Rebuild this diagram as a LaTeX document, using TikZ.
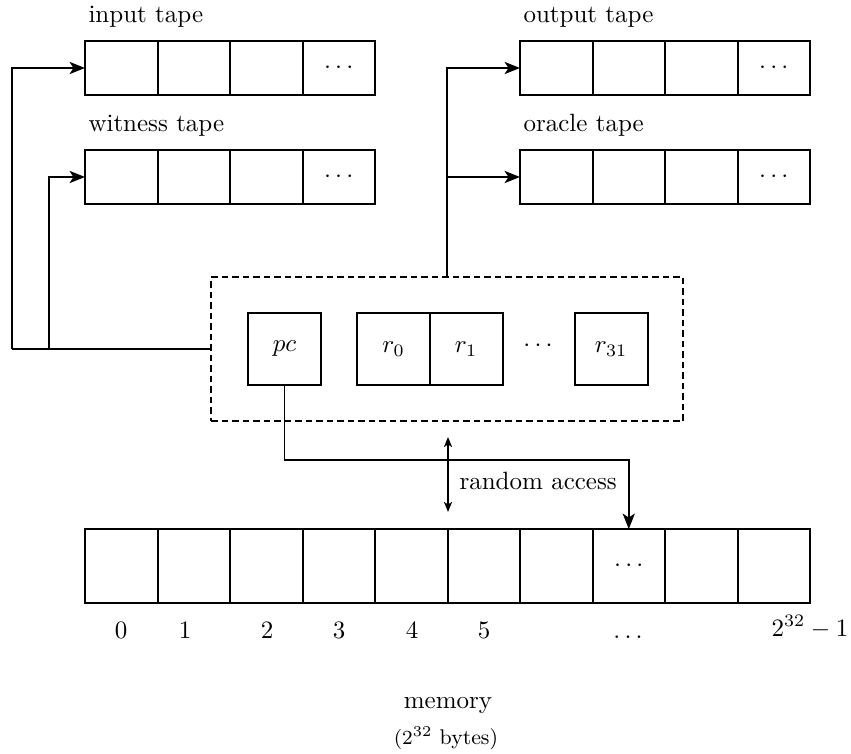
\documentclass[tikz,border=0pt]{standalone}
\usetikzlibrary{arrows.meta}
\begin{document}
\begin{tikzpicture}[x=0.4pt,y=-0.4pt,
 cell/.style={draw,line width=0.8pt,inner sep=0pt,outer sep=0pt,minimum width=29pt,minimum height=21.6pt},
 mcell/.style={cell,minimum height=29.6pt},
 reg/.style={cell,minimum width=29.2pt,minimum height=28.8pt},
 lbl/.style={anchor=base west,inner sep=0pt},
 num/.style={anchor=base,inner sep=0pt},
 conn/.style={line width=0.7pt},
 arr/.style={conn,-{Stealth[length=6.2pt,width=4.9pt,inset=1.6pt]}},
 darr/.style={conn,{Stealth[length=4pt,width=3.2pt,inset=1pt]}-{Stealth[length=4pt,width=3.2pt,inset=1pt]}}]
\useasboundingbox (0,0) rectangle (851,753);
% tapes
\foreach \i/\x in {1/121.25,2/193.75,3/266.25}{
  \node[cell] (in\i) at (\x,68) {};
  \node[cell] (wi\i) at (\x,177) {};
}
\node[cell] (in4) at (338.75,68) {$\cdots$};
\node[cell] (wi4) at (338.75,177) {$\cdots$};
\foreach \i/\x in {1/556.25,2/628.75,3/701.25}{
  \node[cell] (out\i) at (\x,68) {};
  \node[cell] (or\i) at (\x,177) {};
}
\node[cell] (out4) at (773.75,68) {$\cdots$};
\node[cell] (or4) at (773.75,177) {$\cdots$};
\node[lbl] (inlbl) at (88,22) {input tape};
\node[lbl] (wilbl) at (88,131) {witness tape};
\node[lbl] (outlbl) at (523,22) {output tape};
\node[lbl] (orlbl) at (523,131) {oracle tape};
% cpu
\node[draw,line width=0.7pt,dash pattern=on 2.6pt off 1.6pt,inner sep=0pt,minimum width=188.8pt,minimum height=57.6pt] (cpu) at (447,349) {};
\node[reg] (pc) at (284.5,349) {$pc$};
\node[reg] (r0) at (393.5,349) {$r_0$};
\node[reg] (r1) at (466,349) {$r_1$};
\node[inner sep=0pt] (rdots) at (538,346) {$\cdots$};
\node[reg] (r31) at (611,349) {$r_{31}$};
% memory
\foreach \k in {1,...,10}{
  \node[mcell] (m\k) at ({121.25+72.5*(\k-1)},566) {};
}
\node at (m8) {$\cdots$};
\node[num] (n0) at (121,638) {$0$};
\node[num] (n1) at (185,638) {$1$};
\node[num] (n2) at (267,638) {$2$};
\node[num] (n3) at (339,638) {$3$};
\node[num] (n4) at (412,638) {$4$};
\node[num] (n5) at (484,638) {$5$};
\node[num] (n6) at (628,638) {$\dots$};
\node[num] (n7) at (810,636) {$2^{32}-1$};
\node[num] (memlbl) at (448,708) {memory};
\node[num] (memsz) at (446,744) {\fontsize{8.5}{10}\selectfont$(2^{32}$ bytes)};
% connectors
\coordinate (jA) at (12,349);
\coordinate (jB) at (49,349);
\draw[conn] (cpu.west) -- (jA);
\draw[arr] (jA) |- (in1.west);
\draw[arr] (jB) |- (wi1.west);
\draw[arr] (cpu.north) |- (out1.west);
\draw[arr] (cpu.north |- or1.west) -- (or1.west);
\coordinate (bend) at (284.5,460);
\draw[arr] (pc.south) -- (bend) -| (m8.north);
\coordinate (ra1) at (448,437);
\coordinate (ra2) at (448,512);
\draw[darr] (ra1) -- (ra2);
\node[anchor=west,inner sep=0pt] (ralbl) at (459,481) {random access};
\end{tikzpicture}
\end{document}
